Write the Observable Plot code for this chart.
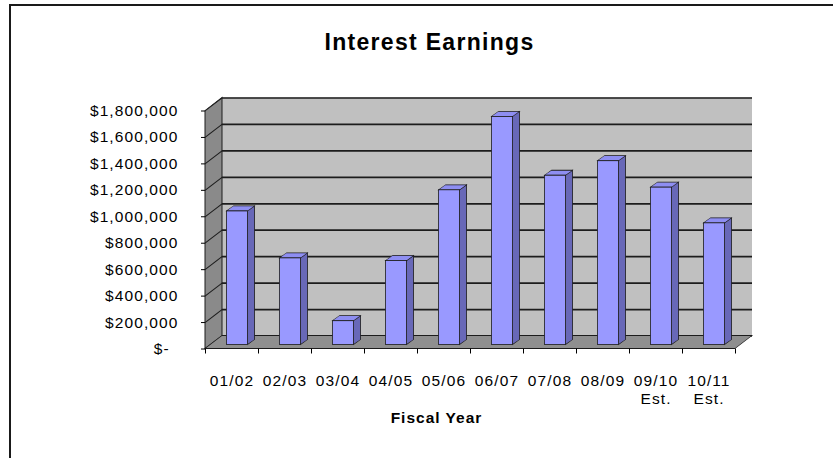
<!DOCTYPE html>
<html><head><meta charset="utf-8">
<script src="https://cdn.jsdelivr.net/npm/d3@7"></script>
<script src="https://cdn.jsdelivr.net/npm/@observablehq/plot@0.6"></script>
<style>
html,body{margin:0;padding:0;background:#fff;width:833px;height:458px;overflow:hidden;}
#chart{position:absolute;left:0;top:0;}
#border{position:absolute;left:9px;top:4px;width:900px;height:500px;border-left:2px solid #1a1a1a;border-top:2px solid #1a1a1a;pointer-events:none;}
#chart svg text{letter-spacing:1.1px;}
</style></head><body>
<div id="chart"></div><div id="border"></div>
<script>
// ---- data ----
const categories = ["01/02","02/03","03/04","04/05","05/06","06/07","07/08","08/09","09/10\nEst.","10/11\nEst."];
const earnings = [1010000, 655000, 180000, 635000, 1170000, 1725000, 1280000, 1390000, 1190000, 920000];
const yTicks = [0, 200000, 400000, 600000, 800000, 1000000, 1200000, 1400000, 1600000, 1800000];
const yTickLabels = ["$-\u2002", "$200,000", "$400,000", "$600,000", "$800,000", "$1,000,000", "$1,200,000", "$1,400,000", "$1,600,000", "$1,800,000"];
const title = "Interest Earnings";
const xLabel = "Fiscal Year";

// ---- layout ----
const W = 833, H = 458;
const M = {top: 110.5, right: 98, bottom: 109.5, left: 205};
const frameW = W - M.left - M.right, frameH = H - M.top - M.bottom;
const padIn = 0.6, padOut = 0.3;
const step = frameW / (categories.length - padIn + 2 * padOut);
const bw = step * (1 - padIn);
const wall = {dx: 17, dy: 13};      // depth of the walls / floor
const barFront = {dx: 5.5, dy: 4};  // depth position of bar fronts
const barDepth = {dx: 7, dy: 5};    // thickness of bars in depth

const rows = categories.map((category, i) => ({category, value: earnings[i]}));
const deg = r => r * 180 / Math.PI;

const style = document.createElement("style");
style.textContent = `
#chart g[aria-description="side-wall"] > rect,
#chart g[aria-description="side-grid"] > line {transform-box: fill-box; transform-origin: 0 0; transform: skewY(${-deg(Math.atan(wall.dy / wall.dx))}deg);}
#chart g[aria-description="floor"] > rect {transform-box: fill-box; transform-origin: 0 100%; transform: skewX(${-deg(Math.atan(wall.dx / wall.dy))}deg);}
#chart g[aria-description="bar-side"] > rect {transform-box: fill-box; transform-origin: 0 0; transform: skewY(${-deg(Math.atan(barDepth.dy / barDepth.dx))}deg);}
#chart g[aria-description="bar-top"] > rect {transform-box: fill-box; transform-origin: 0 100%; transform: skewX(${-deg(Math.atan(barDepth.dx / barDepth.dy))}deg);}
#chart g[aria-description="title"] text {letter-spacing: 1.3px;}
#chart g[aria-description="xlabel"] text {letter-spacing: 1.0px;}
`;
document.head.appendChild(style);

const lineCol = "#1c1c1c";

const chart = Plot.plot({
  width: W, height: H,
  marginTop: M.top, marginRight: M.right, marginBottom: M.bottom, marginLeft: M.left,
  style: {fontFamily: '"Liberation Sans", Arial, sans-serif', fontSize: "15.5px", background: "#fff", overflow: "visible"},
  x: {type: "band", domain: categories, paddingInner: padIn, paddingOuter: padOut, round: false, axis: null},
  y: {domain: [0, 1800000], axis: null},
  marks: [
    // back wall
    Plot.rect([0], {fill: "#c0c0c0", dx: wall.dx, dy: -wall.dy, ariaDescription: "back-wall"}),
    Plot.ruleY(yTicks, {y: d => d, stroke: lineCol, strokeWidth: 1.7, dx: wall.dx, dy: -wall.dy}),
    // side wall
    Plot.rect([0], {fill: "#8a8a8a", stroke: lineCol, strokeWidth: 1, insetRight: frameW - wall.dx, ariaDescription: "side-wall"}),
    Plot.ruleY(yTicks, {y: d => d, stroke: lineCol, strokeWidth: 1.2, insetRight: frameW - wall.dx, ariaDescription: "side-grid"}),
    // floor
    Plot.rect([0], {fill: "#8f8f8f", stroke: lineCol, strokeWidth: 1, insetTop: frameH - wall.dy, ariaDescription: "floor"}),
    // bars: side, top, front
    Plot.barY(rows, {x: "category", y: "value", fill: "#6868b8", stroke: lineCol, strokeWidth: 0.8,
      dx: barFront.dx + bw, dy: -barFront.dy, insetRight: bw - barDepth.dx, ariaDescription: "bar-side"}),
    Plot.barY(rows, {x: "category", y1: "value", y2: "value", fill: "#8e8ef2", stroke: lineCol, strokeWidth: 0.8,
      dx: barFront.dx, dy: -barFront.dy, insetTop: -barDepth.dy, ariaDescription: "bar-top"}),
    Plot.barY(rows, {x: "category", y: "value", fill: "#9999ff", stroke: lineCol, strokeWidth: 0.8,
      dx: barFront.dx, dy: -barFront.dy}),
    // x axis tick marks at category boundaries
    Plot.ruleX(categories, {x: d => d, dx: -step / 2, insetTop: frameH, insetBottom: -5, stroke: "#000"}),
    Plot.ruleX(categories.slice(-1), {x: d => d, dx: step / 2, insetTop: frameH, insetBottom: -5, stroke: "#000"}),
    // x tick labels
    Plot.text(categories, {x: d => d, frameAnchor: "bottom", dy: 24, lineAnchor: "top", lineHeight: 1.17, fontSize: 15.5, fill: "#000"}),
    // y axis
    Plot.axisY(yTicks, {tickSize: 4, tickPadding: 23, fontSize: 15.5, fill: "#000", stroke: "#000", label: null,
      tickFormat: d => yTickLabels[yTicks.indexOf(d)]}),
    // titles
    Plot.text([title], {frameAnchor: "top", dx: -41, dy: -61, lineAnchor: "bottom", fontSize: 23, fontWeight: "bold", fill: "#000", ariaDescription: "title"}),
    Plot.text([xLabel], {frameAnchor: "bottom", dx: -34, dy: 73.5, lineAnchor: "bottom", fontSize: 15.5, fontWeight: "bold", fill: "#000", ariaDescription: "xlabel"})
  ]
});
document.getElementById("chart").appendChild(chart);
</script>
</body></html>
